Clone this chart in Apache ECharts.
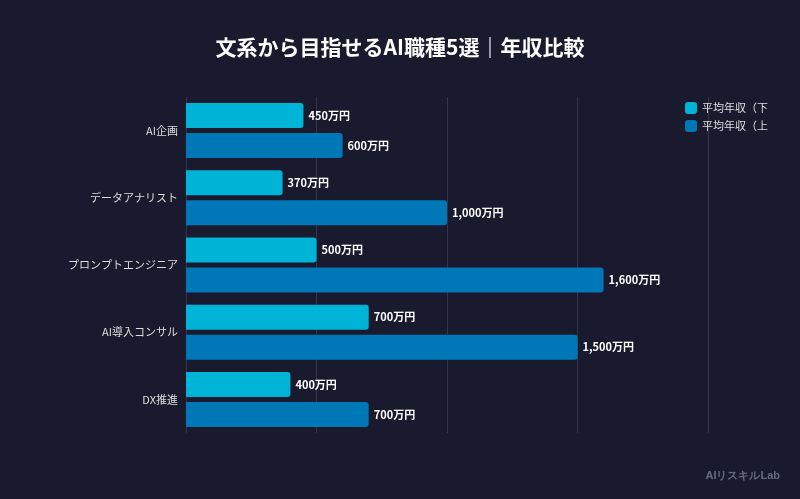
<!DOCTYPE html><html><head><meta charset="utf-8"><script src="https://cdn.jsdelivr.net/npm/echarts@6/dist/echarts.min.js"></script>
<style>html,body{margin:0;background:#1a1a2e}#c{width:800px;height:499px}</style></head><body>
<div style="position:absolute;left:0;top:0;width:800px;height:4px;background:linear-gradient(90deg,#0096c7,#00b4d8)"></div>
<div id="c"></div><script>
const categories=['AI企画','データアナリスト','プロンプトエンジニア','AI導入コンサル','DX推進'];
const lowValues=[450,370,500,700,400];
const highValues=[600,1000,1600,1500,700];
const seriesNames=['平均年収（下限）','平均年収（上限）'];
const ch=echarts.init(document.getElementById('c'));
const lbl={show:true,position:'right',color:'#fff',fontWeight:'bold',fontSize:11,formatter:p=>p.value.toLocaleString('en-US')+'万円'};
ch.setOption({backgroundColor:'#1a1a2e',
title:{text:'文系から目指せるAI職種5選｜年収比較',left:'center',top:32,textStyle:{color:'#fff',fontSize:21,fontWeight:'bold',fontFamily:'Noto Sans CJK JP'}},
textStyle:{fontFamily:'Noto Sans CJK JP'},
legend:{orient:'vertical',left:680,top:97,itemWidth:12,itemHeight:12,itemGap:6,icon:'roundRect',textStyle:{color:'#ddd',fontSize:11,width:68,overflow:'truncate',ellipsis:''},data:seriesNames},
graphic:[{type:'text',right:20,bottom:18,style:{text:'AIリスキルLab',fill:'#666a80',fontSize:11,fontWeight:'bold'}}],
grid:{left:186,right:92,top:97,bottom:66},
xAxis:{type:'value',min:0,max:2000,interval:500,axisLabel:{show:false},splitLine:{lineStyle:{color:'#33364a'}},axisLine:{show:false}},
yAxis:{type:'category',data:categories,inverse:true,axisLine:{show:false},axisTick:{show:false},axisLabel:{color:'#ddd',fontSize:11,margin:8}},
series:[{name:seriesNames[0],type:'bar',data:lowValues,barWidth:25,barGap:'20%',itemStyle:{color:'#00b4d8',borderRadius:[0,3,3,0]},label:lbl},
{name:seriesNames[1],type:'bar',data:highValues,barWidth:25,itemStyle:{color:'#0077b6',borderRadius:[0,3,3,0]},label:lbl}]});
</script></body></html>
